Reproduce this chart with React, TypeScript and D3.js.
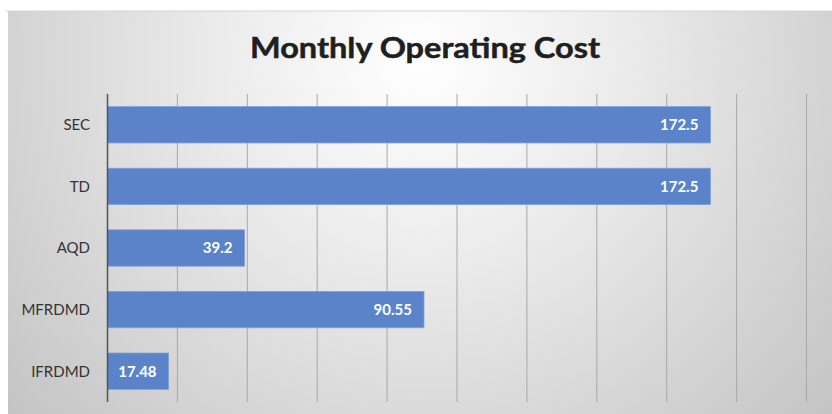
import React from "react";
import * as d3 from "d3";

const categories = ["SEC", "TD", "AQD", "MFRDMD", "IFRDMD"];
const values = [172.5, 172.5, 39.2, 90.55, 17.48];
const valueLabels = ["172.5", "172.5", "39.2", "90.55", "17.48"];
const xTicks = [0, 20, 40, 60, 80, 100, 120, 140, 160, 180, 200];
const title = "Monthly Operating Cost";

export default function App() {
  const W = 832;
  const H = 414;
  const left = 107.5;
  const right = 806.5;
  const top = 94;
  const bottom = 402;

  const x = d3.scaleLinear().domain([0, 200]).range([left, right]);
  const y = d3.scaleBand<string>().domain(categories).range([top, bottom]).paddingInner(0.41).paddingOuter(0.205);

  return (
    <svg width={W} height={H} style={{ position: "absolute", left: 0, top: 0 }} fontFamily="Lato, 'Open Sans', sans-serif">
      <defs>
        <radialGradient id="bg" cx="420" cy="60" r="560" gradientUnits="userSpaceOnUse">
          <stop offset="0" stopColor="#ffffff" />
          <stop offset="0.35" stopColor="#ececec" />
          <stop offset="1" stopColor="#c2c2c2" />
        </radialGradient>
      </defs>
      <rect x={0} y={0} width={W} height={H} fill="#ffffff" />
      <rect x={8} y={11} width={W - 8} height={H - 11} fill="url(#bg)" />
      <line x1={5} x2={W} y1={11} y2={11} stroke="#d4d4d4" strokeWidth={1} />
      <text x={425} y={58} textAnchor="middle" fontSize={29} fontWeight={700} fill="#1f1f1f" stroke="#1f1f1f" strokeWidth={0.5} textLength={350} lengthAdjust="spacingAndGlyphs">
        {title}
      </text>
      {xTicks.slice(1).map((t) => (
        <line key={t} x1={x(t)} x2={x(t)} y1={top} y2={bottom} stroke="#a8a8a8" strokeWidth={1} />
      ))}
      {categories.map((c, i) => (
        <g key={c}>
          <rect
            x={x(0)}
            y={y(c)}
            width={x(values[i]) - x(0)}
            height={y.bandwidth()}
            fill="#5a83c9"
            stroke="#7fa0d8"
            strokeWidth={0.8}
          />
          <text
            x={x(values[i]) - 12}
            y={(y(c) as number) + y.bandwidth() / 2}
            dy="0.36em"
            textAnchor="end"
            fontSize={15}
            fontWeight={700}
            fill="#ffffff"
          >
            {valueLabels[i]}
          </text>
          <text
            x={90}
            y={(y(c) as number) + y.bandwidth() / 2}
            dy="0.36em"
            textAnchor="end"
            fontSize={15}
            fill="#333333"
          >
            {c}
          </text>
        </g>
      ))}
      <line x1={left} x2={left} y1={top} y2={bottom} stroke="#555555" strokeWidth={1.5} />
    </svg>
  );
}
